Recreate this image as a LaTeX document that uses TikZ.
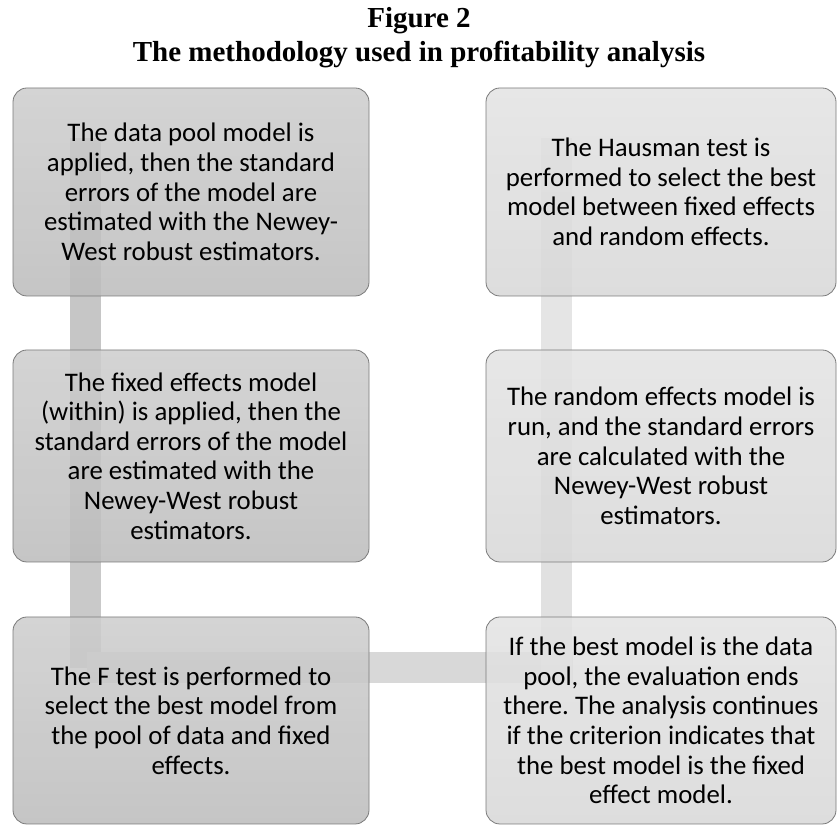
\documentclass[tikz,border=0pt]{standalone}
\usepackage{fontspec}
\setmainfont{Carlito}
\newfontfamily\titlefont{Liberation Serif}
\usetikzlibrary{calc}
\frenchspacing
\definecolor{edgec}{HTML}{7A7A7A}
\definecolor{barA}{HTML}{C6C6C6}
\definecolor{barB}{HTML}{C9C9C9}
\definecolor{barC}{HTML}{D8D8D8}
\definecolor{barD}{HTML}{E1E1E1}
\definecolor{barE}{HTML}{E5E5E5}
\definecolor{darkTop}{HTML}{CDCDCD}
\definecolor{darkBot}{HTML}{BCBCBC}
\definecolor{lightTop}{HTML}{E3E3E3}
\definecolor{lightBot}{HTML}{D8D8D8}
\tikzset{
  box/.style={draw=edgec, line width=0.8pt, rounded corners=14pt, fill opacity=0.85,
    minimum height=#1, inner sep=0pt},
  leftbox/.style={box=#1, minimum width=356pt, top color=darkTop, bottom color=darkBot},
  rightbox/.style={box=#1, minimum width=350pt, top color=lightTop, bottom color=lightBot},
  anchorbox/.style={minimum height=#1, inner sep=0pt},
  txt/.style={align=center, font=\fontsize{26.8}{29.6}\selectfont, inner sep=0pt, text=black},
  bar/.style={line width=31pt, line cap=butt},
  ttl/.style={font=\titlefont\bfseries\fontsize{29}{32}\selectfont, inner sep=0pt, anchor=base}
}
\begin{document}
\begin{tikzpicture}[x=1pt,y=1pt]
\useasboundingbox (0,0) rectangle (838,826);
\fill[white] (0,0) rectangle (838,826);
\path (191,634) coordinate (c1) (191,370) coordinate (c2) (191,105.5) coordinate (c3)
      (661,105.5) coordinate (c4) (661,370) coordinate (c5) (661,634) coordinate (c6);
% invisible frames that fix the connectors' ends
\node[anchorbox=208pt, minimum width=356pt] (a1) at (c1) {};
\node[anchorbox=212pt, minimum width=356pt] (a2) at (c2) {};
\node[anchorbox=207pt, minimum width=356pt] (a3) at (c3) {};
\node[anchorbox=207pt, minimum width=350pt] (a4) at (c4) {};
\node[anchorbox=212pt, minimum width=350pt] (a5) at (c5) {};
\node[anchorbox=208pt, minimum width=350pt] (a6) at (c6) {};
% connectors (behind the translucent boxes)
\coordinate (l1) at ($(a1.north west)+(72.5,-50)$);
\coordinate (l2) at ($(a2.west)+(72.5,0)$);
\coordinate (l3) at ($(a3.north west)+(72.5,-51)$);
\coordinate (h1) at ($(a3.north west)+(74,-51)$);
\coordinate (h2) at ($(a4.north west)+(87,-51)$);
\coordinate (r1) at ($(a4.north west)+(71,-66)$);
\coordinate (r2) at ($(a5.west)+(71,0)$);
\coordinate (r3) at ($(a6.north west)+(71,-50)$);
\draw[bar, barA] (l1) -- (l2);
\draw[bar, barB] (l2) -- (l3);
\draw[bar, barC] (h1) -- (h2);
\draw[bar, barD] (r1) -- (r2);
\draw[bar, barE] (r2) -- (r3);
% boxes
\node[leftbox=208pt] (p1) at (c1) {};
\node[leftbox=212pt] (p2) at (c2) {};
\node[leftbox=207pt] (p3) at (c3) {};
\node[rightbox=207pt] (p4) at (c4) {};
\node[rightbox=212pt] (p5) at (c5) {};
\node[rightbox=208pt] (p6) at (c6) {};
% texts
\node[txt] (t1) at (p1.center) {The data pool model is\\applied, then the standard\\errors of the model are\\estimated with the Newey-\\West robust estimators.};
\node[txt] (t2) at (p2.center) {The fixed effects model\\(within) is applied, then the\\standard errors of the model\\are estimated with the\\Newey-West robust\\estimators.};
\node[txt] (t3) at (p3.center) {The F test is performed to\\select the best model from\\the pool of data and fixed\\effects.};
\node[txt] (t4) at (p4.center) {If the best model is the data\\pool, the evaluation ends\\there. The analysis continues\\if the criterion indicates that\\the best model is the fixed\\effect model.};
\node[txt] (t5) at (p5.center) {The random effects model is\\run, and the standard errors\\are calculated with the\\Newey-West robust\\estimators.};
\node[txt] (t6) at (p6.center) {The Hausman test is\\performed to select the best\\model between fixed effects\\and random effects.};
% title
\node[ttl] (f1) at (419,798) {Figure 2};
\node[ttl] (f2) at (419,764) {The methodology used in profitability analysis};
\end{tikzpicture}
\end{document}
